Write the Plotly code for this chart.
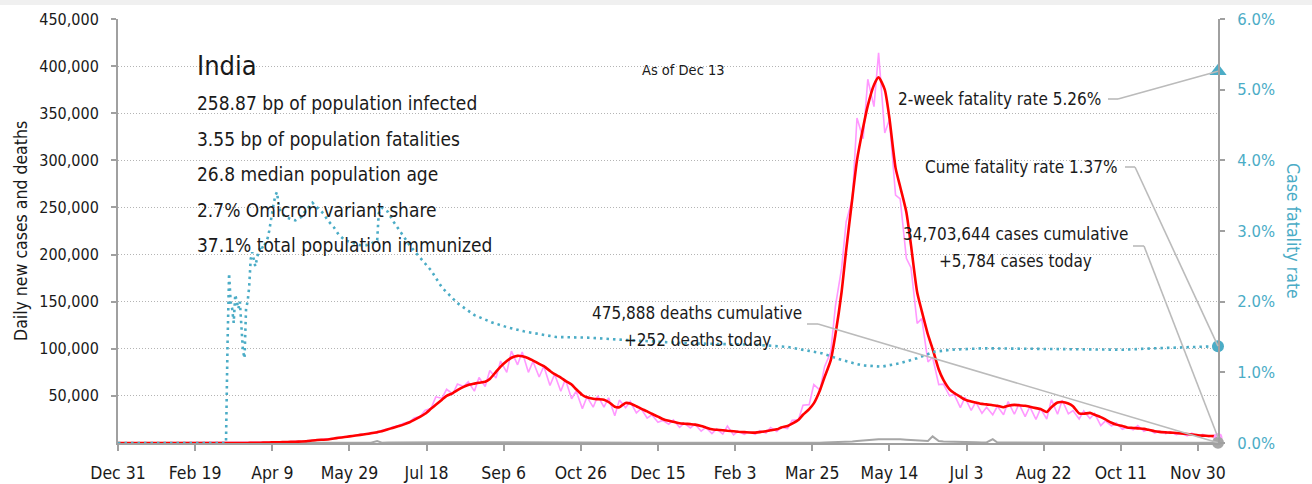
import pandas as pd
import plotly.graph_objects as go

FONT = "DejaVu Sans Condensed, Liberation Sans Narrow, Liberation Sans, sans-serif"
INK = "#1a1a1a"
TEAL = "#4bacc6"
RED = "#ff0000"
PINK = "#ff99ff"
GREY = "#a6a6a6"

# ---------------------------------------------------------------- data
# Reporting grid: Dec 31 2019, then every Tuesday and Friday from
# Mar 3 2020 through Dec 10 2021, then the latest day (Dec 13 2021).
first_day = "2019-12-31"
grid_start = "2020-03-03"
n_weeks = 93
last_day = "2021-12-13"

# 7-day average of new cases, thousands (first, then Tue/Fri pairs, then last)
cases_avg_k = [
    0,
    0, 0, 0.01, 0.02, 0.02, 0.04, 0.07, 0.1, 0.2, 0.35,                  # Mar 2020
    0.55, 0.7, 0.85, 0.95, 1.2, 1.4, 1.6, 1.9,                            # Apr
    2.7, 3.2, 3.5, 3.8, 4.8, 5.5, 6.3, 7.0,                               # May
    7.9, 8.6, 9.5, 10.3, 11.5, 12.5, 14.5, 16.0, 18.0, 19.5,              # Jun
    22.0, 24.5, 28.0, 31.0, 36.5, 40.5, 46.0, 50.0,                       # Jul
    53.0, 56.0, 59.5, 61.5, 63.0, 64.0, 65.0, 68.0,                       # Aug
    75.5, 81.0, 87.0, 90.5, 92.5, 92.0, 90.0, 87.5, 84.0, 81.5,           # Sep
    76.5, 73.0, 69.5, 66.0, 62.0, 57.0, 51.0, 48.5,                       # Oct
    47.0, 46.5, 46.0, 43.5, 38.5, 38.0, 42.5, 42.0,                       # Nov
    39.0, 36.5, 33.5, 31.0, 28.0, 25.5, 23.5, 22.5, 21.0, 20.5,           # Dec
    20.0, 19.5, 18.0, 16.5, 14.5, 14.0, 13.5, 13.0,                       # Jan 2021
    12.5, 12.0, 11.5, 11.2, 11.0, 11.5, 12.5, 13.5,                       # Feb
    14.5, 16.5, 18.0, 20.5, 24.5, 30.0, 36.0, 42.0, 56.0, 70.0,           # Mar
    88.0, 115.0, 160.0, 205.0, 260.0, 300.0, 335.0, 358.0,                # Apr
    380.0, 388.0, 375.0, 345.0, 292.0, 272.0, 245.0, 210.0,               # May
    160.0, 140.0, 115.0, 100.0, 78.0, 67.0, 57.0, 53.0, 49.0, 46.0,       # Jun
    44.0, 43.0, 41.5, 41.0, 40.0, 39.5, 38.0, 39.5,                       # Jul
    40.5, 40.0, 39.5, 38.5, 37.0, 36.0, 33.0, 38.0, 43.0, 43.5,           # Aug
    42.0, 39.0, 31.5, 31.0, 32.0, 30.0, 27.5, 25.0,                       # Sep
    21.5, 19.5, 18.0, 16.5, 16.0, 15.5, 15.0, 14.0,                       # Oct
    12.5, 11.8, 11.3, 11.0, 10.6, 10.2, 9.5, 9.0, 8.2, 7.8,               # Nov
    7.5, 7.3,                                                             # Dec
    7.2,
]

# Daily new cases, thousands
cases_daily_k = [
    0,
    0, 0, 0.01, 0.02, 0.03, 0.05, 0.1, 0.15, 0.25, 0.5,
    0.6, 0.8, 0.9, 1.0, 1.3, 1.6, 1.6, 2.0,
    3.0, 3.4, 3.5, 4.0, 4.9, 5.8, 6.4, 7.4,
    8.0, 9.0, 9.5, 11.0, 10.5, 13.5, 15.0, 17.0, 18.5, 21.0,
    22.5, 26.5, 28.5, 34.5, 37.0, 49.0, 47.5, 57.0,
    52.0, 62.5, 60.0, 65.0, 55.0, 69.5, 60.0, 77.0,
    69.0, 87.0, 75.0, 97.5, 83.0, 96.5, 75.0, 86.5, 70.0, 81.5,
    61.0, 73.0, 55.0, 67.5, 47.0, 55.0, 36.5, 49.0,
    38.0, 50.0, 38.0, 48.0, 29.0, 45.5, 37.5, 44.0,
    32.0, 36.5, 26.5, 30.0, 22.0, 24.0, 20.0, 24.5, 16.5, 21.0,
    16.0, 20.0, 12.5, 16.5, 10.0, 15.0, 9.5, 18.0,
    8.6, 12.5, 9.1, 12.1, 9.1, 13.2, 10.5, 16.5,
    12.3, 16.8, 15.4, 24.0, 24.5, 40.0, 40.7, 62.0, 56.2, 81.0,
    96.5, 145.0, 185.0, 235.0, 259.0, 345.0, 323.0, 386.0,
    357.0, 414.0, 329.0, 343.0, 263.0, 259.0, 196.0, 186.0,
    127.0, 132.0, 86.0, 91.0, 62.0, 62.5, 50.0, 51.5, 37.5, 48.5,
    34.5, 43.5, 31.5, 38.0, 30.0, 39.0, 30.0, 44.0,
    30.5, 41.5, 28.0, 38.5, 25.0, 36.5, 25.5, 46.0, 30.5, 45.5,
    31.0, 34.5, 25.5, 34.0, 26.0, 31.5, 18.5, 23.5,
    18.0, 21.5, 14.5, 16.5, 14.0, 18.5, 12.5, 14.5,
    10.5, 12.5, 10.0, 11.8, 8.9, 10.3, 7.6, 10.5, 6.9, 9.2,
    6.8, 7.9,
    5.784,
]

# Daily deaths, thousands
deaths_daily_k = [
    0,
    0, 0, 0, 0, 0, 0, 0.002, 0.004, 0.01, 0.02,
    0.03, 0.04, 0.04, 0.05, 0.05, 0.05, 0.06, 0.07,
    0.1, 0.1, 0.12, 0.12, 0.14, 0.15, 0.17, 0.2,
    0.22, 0.27, 0.3, 0.35, 2.0, 0.38, 0.42, 0.4, 0.45, 0.45,
    0.5, 0.5, 0.55, 0.6, 0.65, 0.7, 0.75, 0.78,
    0.85, 0.9, 0.9, 0.95, 0.95, 0.97, 0.97, 1.0,
    1.05, 1.1, 1.1, 1.15, 1.15, 1.15, 1.1, 1.1, 1.05, 1.0,
    0.95, 0.9, 0.8, 0.75, 0.7, 0.65, 0.55, 0.55,
    0.5, 0.55, 0.5, 0.5, 0.45, 0.55, 0.5, 0.5,
    0.45, 0.45, 0.4, 0.38, 0.35, 0.33, 0.3, 0.3, 0.27, 0.25,
    0.24, 0.22, 0.2, 0.18, 0.16, 0.15, 0.13, 0.12,
    0.11, 0.1, 0.1, 0.1, 0.1, 0.1, 0.1, 0.11,
    0.11, 0.12, 0.12, 0.13, 0.13, 0.17, 0.2, 0.25, 0.3, 0.45,
    0.6, 0.8, 0.9, 1.2, 1.7, 2.2, 2.8, 3.3,
    3.4, 3.9, 4.0, 4.1, 4.3, 4.0, 3.5, 3.3,
    2.9, 2.6, 2.2, 7.0, 2.0, 1.6, 1.3, 1.2, 1.0, 0.9,
    0.75, 0.7, 0.65, 0.6, 4.0, 0.55, 0.55, 0.5,
    0.5, 0.5, 0.48, 0.47, 0.45, 0.44, 0.42, 0.45, 0.45, 0.5,
    0.45, 0.4, 0.35, 0.33, 0.3, 0.3, 0.28, 0.27,
    0.25, 0.23, 0.2, 0.2, 0.2, 0.19, 0.3, 0.5,
    0.4, 0.45, 0.4, 0.35, 0.3, 0.3, 0.3, 0.35, 0.3, 0.4,
    0.35, 0.3,
    0.252,
]

# Cumulative case fatality rate, percent
cfr_dates = [
    "2019-12-31", "2020-03-10",
    "2020-03-11", "2020-03-12", "2020-03-13", "2020-03-14", "2020-03-15",
    "2020-03-16", "2020-03-17", "2020-03-18", "2020-03-19", "2020-03-20",
    "2020-03-21", "2020-03-22", "2020-03-23", "2020-03-24", "2020-03-25",
    "2020-03-26", "2020-03-27", "2020-03-28", "2020-03-29", "2020-03-30",
    "2020-03-31", "2020-04-01", "2020-04-02", "2020-04-03", "2020-04-04",
    "2020-04-05", "2020-04-06", "2020-04-07", "2020-04-08", "2020-04-09",
    "2020-04-10", "2020-04-11", "2020-04-12", "2020-04-13", "2020-04-14",
    "2020-04-17", "2020-04-21", "2020-04-24", "2020-04-28", "2020-05-01",
    "2020-05-05", "2020-05-08", "2020-05-12", "2020-05-15", "2020-05-19",
    "2020-05-22", "2020-05-26", "2020-05-29", "2020-06-02", "2020-06-05",
    "2020-06-09", "2020-06-12", "2020-06-16", "2020-06-17", "2020-06-19",
    "2020-06-23", "2020-06-26", "2020-06-30", "2020-07-03", "2020-07-07",
    "2020-07-10", "2020-07-14", "2020-07-17", "2020-07-21", "2020-07-28",
    "2020-08-07", "2020-08-18", "2020-08-29", "2020-09-08", "2020-09-19",
    "2020-10-10", "2020-11-01", "2020-11-22", "2020-12-14", "2021-01-04",
    "2021-01-26", "2021-02-16", "2021-03-09", "2021-03-31", "2021-04-14",
    "2021-04-26", "2021-05-09", "2021-05-21", "2021-06-01", "2021-06-12",
    "2021-06-23", "2021-07-14", "2021-08-27", "2021-10-12", "2021-11-02",
    "2021-11-23", "2021-12-13",
]
cfr_pct = [
    0.0, 0.0,
    1.4, 2.4, 2.0, 1.9, 1.7,
    2.1, 2.0, 1.9, 2.0, 1.6,
    1.3, 1.2, 1.9, 2.0, 2.2,
    2.6, 2.7, 2.6, 2.5, 2.6,
    2.7, 2.75, 2.8, 2.75, 2.8,
    2.85, 2.9, 3.0, 3.15, 3.3,
    3.4, 3.5, 3.55, 3.4, 3.3,
    3.2, 3.17, 3.15, 3.2, 3.3,
    3.4, 3.33, 3.25, 3.15, 3.05,
    2.95, 2.87, 2.85, 2.82, 2.8,
    2.8, 2.82, 2.87, 3.25, 3.33,
    3.27, 3.15, 3.02, 2.92, 2.8,
    2.72, 2.62, 2.53, 2.44, 2.2,
    1.98, 1.81, 1.71, 1.64, 1.58,
    1.5, 1.49, 1.46, 1.43, 1.41,
    1.40, 1.39, 1.36, 1.27, 1.17,
    1.10, 1.08, 1.13, 1.20, 1.29,
    1.32, 1.34, 1.33, 1.32, 1.34,
    1.36, 1.37,
]

# Latest-day readings
latest_cases = 5784
latest_deaths = 252
total_cases = 34703644
total_deaths = 475888
cfr_cume = 1.37
cfr_2week = 5.26

country = "India"
profile_lines = [
    "258.87 bp of population infected",
    "3.55 bp of population fatalities",
    "26.8 median population age",
    "2.7% Omicron variant share",
    "37.1% total population immunized",
]

tick_dates = [
    "2019-12-31", "2020-02-19", "2020-04-09", "2020-05-29", "2020-07-18",
    "2020-09-06", "2020-10-26", "2020-12-15", "2021-02-03", "2021-03-25",
    "2021-05-14", "2021-07-03", "2021-08-22", "2021-10-11", "2021-11-30",
]
tick_labels = ["Dec 31", "Feb 19", "Apr 9", "May 29", "Jul 18", "Sep 6",
               "Oct 26", "Dec 15", "Feb 3", "Mar 25", "May 14", "Jul 3",
               "Aug 22", "Oct 11", "Nov 30"]
case_ticks = [50000, 100000, 150000, 200000, 250000, 300000, 350000,
              400000, 450000]
cfr_ticks = [0, 1, 2, 3, 4, 5, 6]

# ---------------------------------------------------------------- x values
dates = [pd.Timestamp(first_day)]
day = pd.Timestamp(grid_start)
for _ in range(n_weeks):
    dates.append(day)
    dates.append(day + pd.Timedelta(days=3))
    day += pd.Timedelta(days=7)
dates.append(pd.Timestamp(last_day))

assert len(dates) == len(cases_avg_k) == len(cases_daily_k) == len(deaths_daily_k)
assert len(cfr_dates) == len(cfr_pct)

cases_avg = [v * 1000 for v in cases_avg_k]
cases_daily = [v * 1000 for v in cases_daily_k]
deaths_daily = [v * 1000 for v in deaths_daily_k]

# ---------------------------------------------------------------- figure
W, H = 1312, 484
L, R, T, B = 118, 1218, 19, 443          # plot-area edges in pixels
Y_MAX, Y2_MAX = 450000, 6.0

X_TICK_SIZE = 17.5
Y_TICK_SIZE = 16
Y2_TICK_SIZE = 16.5
TITLE_SIZE = 17.5
NOTE_SIZE = 17
LEAD = "#bbbbbb"


def fx(px):
    return (px - L) / (R - L)


def fy(py):
    return (B - py) / (B - T)


fig = go.Figure()

fig.add_trace(go.Scatter(x=dates, y=deaths_daily, mode="lines",
                         line=dict(color=GREY, width=2), hoverinfo="skip"))
fig.add_trace(go.Scatter(x=dates, y=cases_daily, mode="lines",
                         line=dict(color=PINK, width=1.6), hoverinfo="skip"))
fig.add_trace(go.Scatter(x=dates, y=cases_avg, mode="lines",
                         line=dict(color=RED, width=2.6, shape="spline",
                                   smoothing=0.6), hoverinfo="skip"))
fig.add_trace(go.Scatter(x=pd.to_datetime(cfr_dates), y=cfr_pct, yaxis="y2",
                         mode="lines",
                         line=dict(color=TEAL, width=2.6, dash="2.5px,4px"),
                         hoverinfo="skip"))

# latest-day markers on the right edge
end = pd.Timestamp(last_day)
fig.add_trace(go.Scatter(x=[end], y=[latest_cases], mode="markers",
                         marker=dict(color=PINK, size=9), cliponaxis=False))
fig.add_trace(go.Scatter(x=[end], y=[latest_deaths], mode="markers",
                         marker=dict(color=GREY, size=12), cliponaxis=False))
fig.add_trace(go.Scatter(x=[end], y=[cfr_cume], yaxis="y2", mode="markers",
                         marker=dict(color=TEAL, size=12), cliponaxis=False))
fig.add_trace(go.Scatter(x=[end], y=[cfr_2week], yaxis="y2", mode="markers",
                         marker=dict(color=TEAL, size=15, symbol="triangle-up"),
                         cliponaxis=False))

axis_grey = "#a0a0a0"
fig.update_layout(
    width=W, height=H,
    margin=dict(l=L, r=W - R, t=T, b=H - B, pad=0, autoexpand=False),
    paper_bgcolor="white", plot_bgcolor="white",
    showlegend=False,
    font=dict(family=FONT, size=X_TICK_SIZE, color=INK),
    xaxis=dict(type="date", range=[first_day, last_day], automargin=False,
               tickvals=tick_dates, ticktext=tick_labels,
               ticks="outside", ticklen=6, tickwidth=2, tickcolor=axis_grey,
               showline=True, linecolor=axis_grey, linewidth=2,
               showgrid=False, zeroline=False, ticklabelstandoff=7,
               tickfont=dict(size=X_TICK_SIZE, color=INK)),
    yaxis=dict(range=[0, Y_MAX], tickvals=case_ticks, tickformat=",",
               automargin=False,
               ticks="outside", ticklen=5, tickwidth=2, tickcolor=axis_grey,
               showline=True, linecolor=axis_grey, linewidth=2,
               showgrid=True, gridcolor="#b4b4b4", gridwidth=1,
               griddash="1px,2px", zeroline=False, ticklabelstandoff=9,
               tickfont=dict(size=Y_TICK_SIZE, color=INK)),
    yaxis2=dict(range=[0, Y2_MAX], overlaying="y", side="right",
                automargin=False,
                tickvals=cfr_ticks,
                ticktext=[f"{v:.1f}%" for v in cfr_ticks],
                ticks="outside", ticklen=5, tickwidth=2, tickcolor=axis_grey,
                showline=True, linecolor=axis_grey, linewidth=2,
                showgrid=False, zeroline=False, ticklabelstandoff=9,
                tickfont=dict(size=Y2_TICK_SIZE, color=TEAL)),
)

# light band along the top edge of the page
fig.add_shape(type="rect", xref="paper", yref="paper",
              x0=-L / (R - L), x1=(W - L) / (R - L),
              y0=fy(5), y1=fy(-2), fillcolor="#f0f0f0", line_width=0,
              layer="below")

# axis titles
fig.add_annotation(text="Daily new cases and deaths", xref="paper",
                   yref="paper", x=fx(21), y=fy(231), textangle=-90,
                   xanchor="center", yanchor="middle",
                   showarrow=False, font=dict(size=TITLE_SIZE, color=INK))
fig.add_annotation(text="Case fatality rate", xref="paper", yref="paper",
                   x=fx(1293), y=fy(231), textangle=90,
                   xanchor="center", yanchor="middle", showarrow=False,
                   font=dict(size=TITLE_SIZE, color=TEAL))

# country profile block
fig.add_annotation(text=country, xref="paper", yref="paper", x=fx(195),
                   y=fy(65), xanchor="left", yanchor="middle",
                   showarrow=False, font=dict(size=27, color=INK))
for i, line in enumerate(profile_lines):
    fig.add_annotation(text=line, xref="paper", yref="paper", x=fx(195),
                       y=fy(103 + 35.5 * i), xanchor="left",
                       yanchor="middle", showarrow=False,
                       font=dict(size=19, color=INK))

fig.add_annotation(text=f"As of {end.strftime('%b')} {end.day}",
                   xref="paper", yref="paper", x=fx(683), y=fy(70),
                   xanchor="center", yanchor="middle",
                   showarrow=False, font=dict(size=14.5, color=INK))

# callouts with leader lines to the latest-day markers
callouts = [
    # text, right edge px, centre-y px, axis, axis max, target value
    (f"2-week fatality rate {cfr_2week:.2f}%", 1103, 99, "y2", Y2_MAX, cfr_2week),
    (f"Cume fatality rate {cfr_cume:.2f}%", 1120, 167, "y2", Y2_MAX, cfr_cume),
]
for text, right_px, y_px, yref, ymax, target in callouts:
    fig.add_annotation(text=text, xref="paper", yref="paper", x=fx(right_px),
                       y=fy(y_px), xanchor="right", yanchor="middle",
                       showarrow=False, font=dict(size=NOTE_SIZE, color=INK))
    y_val = fy(y_px) * ymax
    fig.add_shape(type="line", xref="paper", yref=yref,
                  x0=fx(right_px + 5), x1=fx(right_px + 15), y0=y_val, y1=y_val,
                  line=dict(color=LEAD, width=1.6))
    fig.add_shape(type="line", xref="paper", yref=yref,
                  x0=fx(right_px + 15), x1=1.0, y0=y_val, y1=target,
                  line=dict(color=LEAD, width=1.6))

two_line = [
    (f"{total_cases:,} cases cumulative", f"+{latest_cases:,} cases today",
     1015, 234, 1133, 246, latest_cases),
    (f"{total_deaths:,} deaths cumulative", f"+{latest_deaths:,} deaths today",
     697, 313, 807, 324, latest_deaths),
]
for top, bottom, cx, y_px, lead_px, lead_y, target in two_line:
    fig.add_annotation(text=top, xref="paper", yref="paper", x=fx(cx),
                       y=fy(y_px), xanchor="center", yanchor="middle",
                       showarrow=False, font=dict(size=NOTE_SIZE, color=INK))
    fig.add_annotation(text=bottom, xref="paper", yref="paper", x=fx(cx),
                       y=fy(y_px + 27), xanchor="center", yanchor="middle",
                       showarrow=False, font=dict(size=NOTE_SIZE, color=INK))
    y_val = fy(lead_y) * Y_MAX
    fig.add_shape(type="line", xref="paper", yref="y",
                  x0=fx(lead_px), x1=fx(lead_px + 11), y0=y_val, y1=y_val,
                  line=dict(color=LEAD, width=1.6))
    fig.add_shape(type="line", xref="paper", yref="y",
                  x0=fx(lead_px + 11), x1=1.0, y0=y_val, y1=target,
                  line=dict(color=LEAD, width=1.6))

fig.write_html("out.html")
